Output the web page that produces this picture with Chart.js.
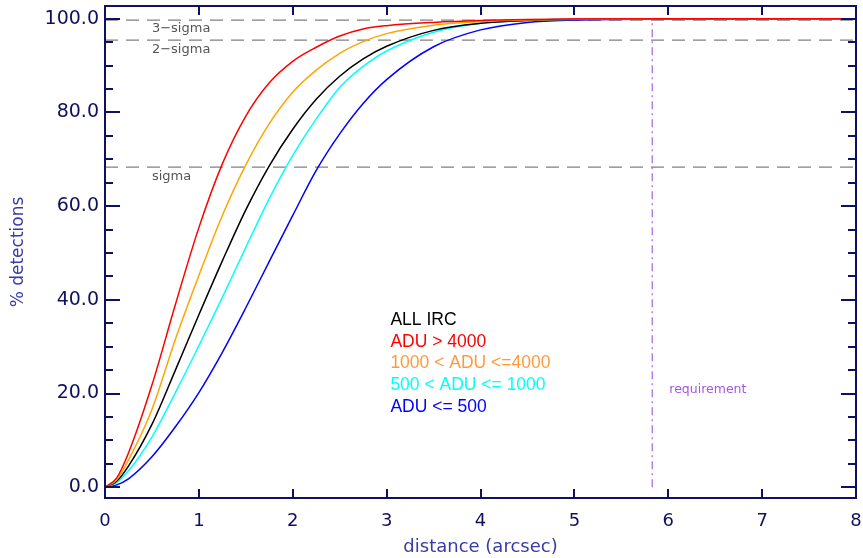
<!DOCTYPE html>
<html>
<head>
<meta charset="utf-8">
<script src="https://cdn.jsdelivr.net/npm/chart.js@4/dist/chart.umd.min.js"></script>
<style>
html,body{margin:0;padding:0;background:#fff;}
#wrap{width:863px;height:558px;}
</style>
</head>
<body>
<div id="wrap"><canvas id="c" width="863" height="558"></canvas></div>
<script>
// ---- data ----
const distance   = [0, 0.125, 0.25, 0.5, 0.75, 1.0, 1.25, 1.5, 1.75, 2.0, 2.25, 2.5, 2.75, 3.0, 3.5, 4.0, 4.5, 5.0, 6.0, 8.0];
const adu4000    = [0, 2.0, 7.3, 21.8, 39.0, 55.4, 69.0, 79.2, 86.3, 90.9, 93.9, 96.3, 97.8, 98.5, 99.2, 99.6, 99.8, 99.9, 100, 100];
const adu1000    = [0, 1.6, 5.8, 16.6, 31.6, 45.2, 58.0, 68.8, 77.6, 84.3, 89.0, 92.6, 95.1, 96.8, 98.6, 99.4, 99.7, 99.85, 100, 100];
const allIrc     = [0, 1.3, 4.5, 13.4, 25.0, 36.8, 48.3, 59.2, 68.6, 76.4, 82.8, 87.7, 91.4, 94.1, 97.5, 99.0, 99.6, 99.85, 100, 100];
const adu500     = [0, 1.0, 3.5, 10.7, 20.2, 30.2, 40.5, 51.2, 61.6, 70.8, 78.6, 85.3, 89.8, 93.1, 97.1, 99.0, 99.6, 99.85, 100, 100];
const aduLow     = [0, 0.5, 1.8, 6.5, 12.9, 20.2, 28.8, 38.3, 48.2, 58.0, 67.6, 75.4, 81.9, 87.0, 94.0, 97.6, 99.2, 99.7, 99.95, 100];

const sigmaLevels = [99.7, 95.4, 68.3];
const sigmaLabels = ['3\u2212sigma', '2\u2212sigma', 'sigma'];
const requirementX = 5.83;
const requirementY = [0, 100];

const legendLabels = ['ALL IRC', 'ADU > 4000', '1000 < ADU <=4000', '500 < ADU <= 1000', 'ADU <= 500'];
const legendColors = ['#000000', '#ff0000', '#ff9a3c', '#00ffff', '#0000ff'];

const xTickValues = [0, 1, 2, 3, 4, 5, 6, 7, 8];
const yMajorTicks = [0, 20, 40, 60, 80, 100];

const xMin = 0, xMax = 8, yMin = -2.3, yMax = 102.7;

function pts(xs, ys) { return xs.map((x, i) => ({x: x, y: ys[i]})); }

const navy = '#101060';
const curveStyle = {pointRadius: 0, borderWidth: 1.5, fill: false, cubicInterpolationMode: 'monotone'};

const datasets = [
  Object.assign({label: 'ADU > 4000', data: pts(distance, adu4000), borderColor: '#ff0000'}, curveStyle),
  Object.assign({label: '1000 < ADU <=4000', data: pts(distance, adu1000), borderColor: '#ffa500'}, curveStyle),
  Object.assign({label: 'ALL IRC', data: pts(distance, allIrc), borderColor: '#000000'}, curveStyle),
  Object.assign({label: '500 < ADU <= 1000', data: pts(distance, adu500), borderColor: '#00ffff'}, curveStyle),
  Object.assign({label: 'ADU <= 500', data: pts(distance, aduLow), borderColor: '#0000ff'}, curveStyle),
];
sigmaLevels.forEach((lv, i) => {
  datasets.push({label: sigmaLabels[i], data: [{x: xMin, y: lv}, {x: xMax, y: lv}],
    borderColor: '#808080', borderWidth: 1.3, borderDash: [13, 8], pointRadius: 0, fill: false});
});
datasets.push({label: 'requirement', data: requirementY.map(y => ({x: requirementX, y: y})),
  borderColor: '#b57ee8', borderWidth: 1.5, borderDash: [8, 4, 2, 4], pointRadius: 0, fill: false});

const idlPlugin = {
  id: 'idl',
  afterDraw(chart) {
    const ctx = chart.ctx, a = chart.chartArea;
    const xs = chart.scales.x, ys = chart.scales.y;
    ctx.save();
    ctx.strokeStyle = navy; ctx.lineWidth = 2;
    ctx.strokeRect(a.left, a.top, a.right - a.left, a.bottom - a.top);
    xTickValues.forEach(v => {
      const px = Math.round(xs.getPixelForValue(v));
      ctx.beginPath();
      ctx.moveTo(px, a.bottom); ctx.lineTo(px, a.bottom - 9);
      ctx.moveTo(px, a.top); ctx.lineTo(px, a.top + 9);
      ctx.stroke();
    });
    for (let v = 0; v <= 100; v += 5) {
      const py = Math.round(ys.getPixelForValue(v));
      const len = (v % 20 === 0) ? 15 : 8;
      ctx.beginPath();
      ctx.moveTo(a.left, py); ctx.lineTo(a.left + len, py);
      ctx.moveTo(a.right, py); ctx.lineTo(a.right - len, py);
      ctx.stroke();
    }
    ctx.fillStyle = '#555555';
    ctx.font = '13px "DejaVu Sans"';
    ctx.textAlign = 'left'; ctx.textBaseline = 'middle';
    sigmaLevels.forEach((lv, i) => {
      ctx.fillText(sigmaLabels[i], xs.getPixelForValue(0.5), ys.getPixelForValue(lv) + 9);
    });
    ctx.font = '17.5px "Liberation Sans"';
    legendLabels.forEach((t, i) => {
      ctx.fillStyle = legendColors[i];
      ctx.fillText(t, xs.getPixelForValue(3.04), ys.getPixelForValue(35.7) + i * 21.8);
    });
    ctx.fillStyle = '#a456e0';
    ctx.font = '12.5px "DejaVu Sans"';
    ctx.fillText('requirement', xs.getPixelForValue(requirementX) + 17, ys.getPixelForValue(20.9));
    ctx.restore();
  }
};

new Chart(document.getElementById('c'), {
  type: 'line',
  data: {datasets: datasets},
  options: {
    responsive: false,
    animation: false,
    devicePixelRatio: 1,
    layout: {padding: {left: 0, top: 6, right: 7, bottom: 0}},
    plugins: {legend: {display: false}, tooltip: {enabled: false}},
    scales: {
      x: {
        type: 'linear', min: xMin, max: xMax,
        grid: {display: false, drawTicks: false},
        border: {display: false},
        afterBuildTicks: s => { s.ticks = xTickValues.map(v => ({value: v})); },
        afterFit: s => { s.height = 60; s.paddingLeft = 0; s.paddingRight = 0; },
        ticks: {color: navy, font: {family: 'DejaVu Sans', size: 18}, padding: 13, maxRotation: 0,
                callback: v => String(v)},
        title: {display: true, text: 'distance (arcsec)', color: '#3a3aa8',
                font: {family: 'DejaVu Sans', size: 18}, padding: {top: 0, bottom: 0}}
      },
      y: {
        type: 'linear', min: yMin, max: yMax,
        grid: {display: false, drawTicks: false},
        border: {display: false},
        afterBuildTicks: s => { s.ticks = yMajorTicks.map(v => ({value: v})); },
        afterFit: s => { s.width = 105; s.paddingTop = 0; s.paddingBottom = 0; },
        ticks: {color: navy, font: {family: 'DejaVu Sans', size: 19}, padding: 6,
                callback: v => Number(v).toFixed(1)},
        title: {display: true, text: '% detections', color: '#3a3aa8',
                font: {family: 'DejaVu Sans', size: 17}, padding: {top: 8, bottom: 0}}
      }
    }
  },
  plugins: [idlPlugin]
});
</script>
</body>
</html>
